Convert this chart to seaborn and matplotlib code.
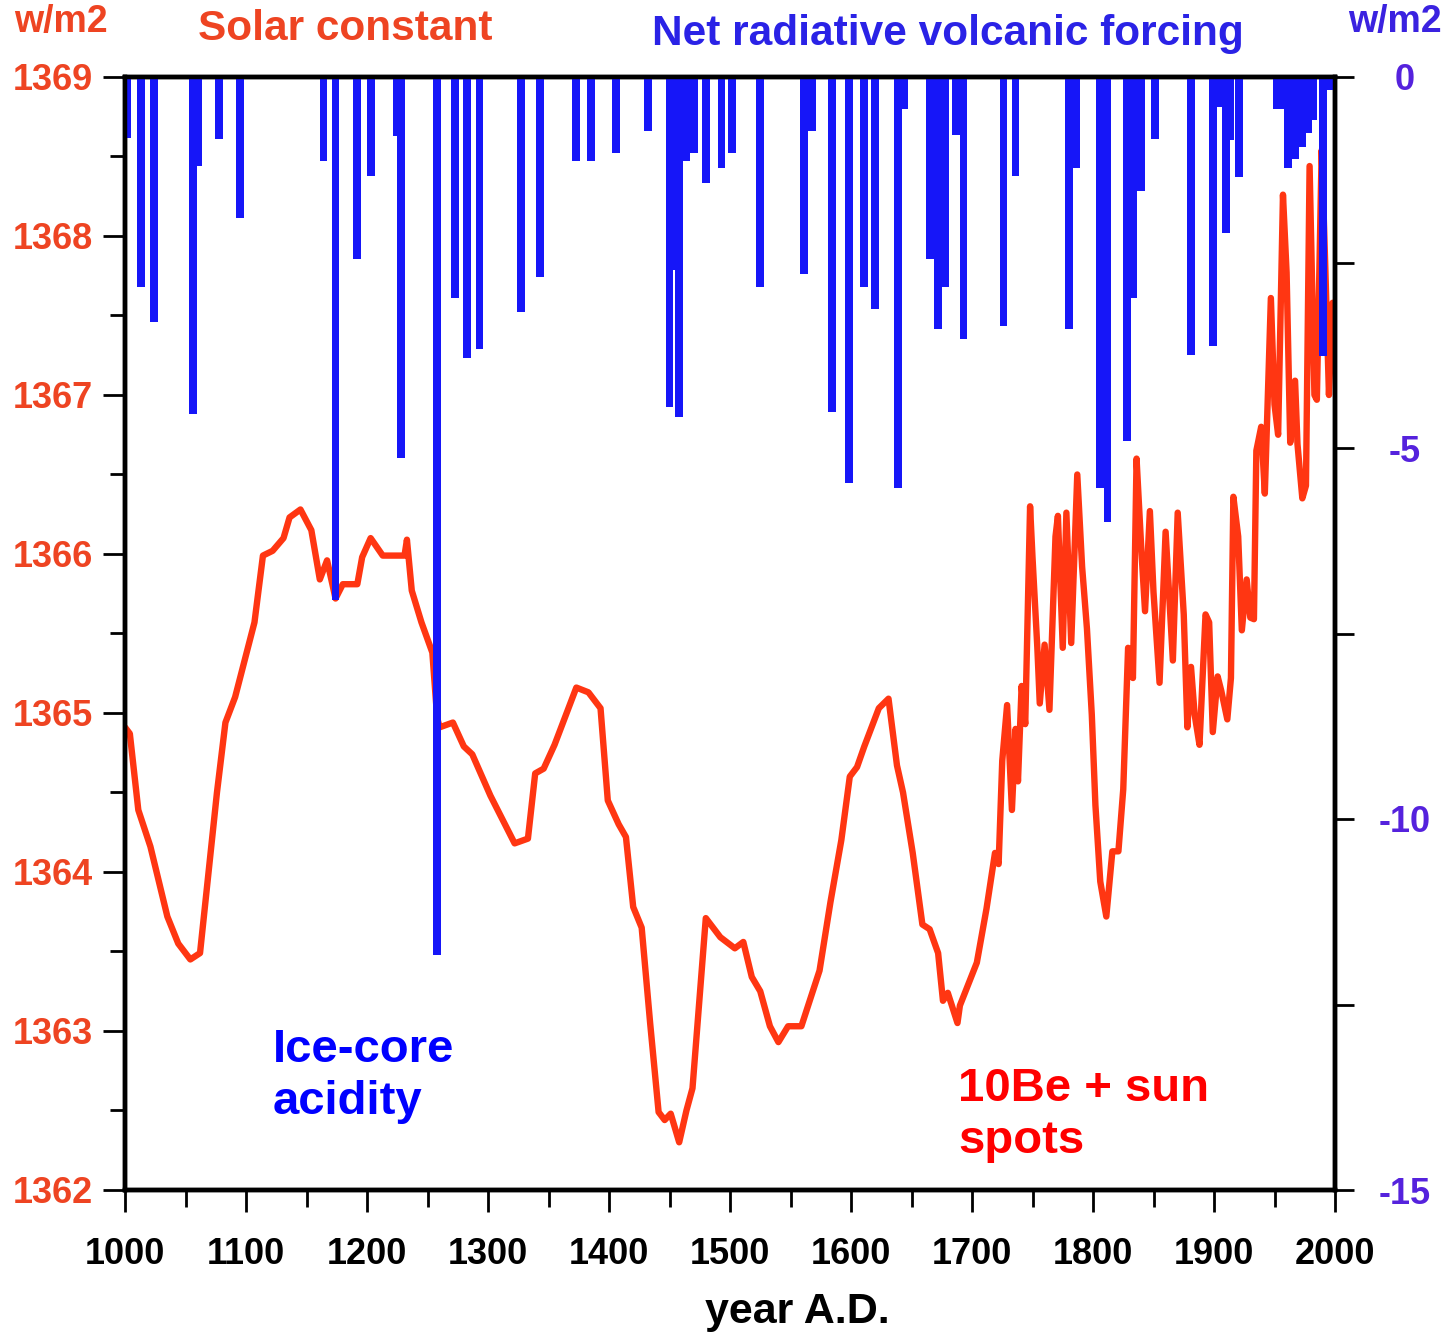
import matplotlib
matplotlib.use("Agg")
import matplotlib.pyplot as plt
import seaborn as sns
import numpy as np
from matplotlib.ticker import MultipleLocator, FixedLocator

# Solar constant (w/m2), 10Be + sun spots reconstruction
solar_years = [1000, 1004, 1011, 1021, 1035, 1044, 1054, 1062, 1076, 1083, 1091, 1107,
               1114, 1122, 1131, 1136, 1145, 1154, 1161, 1167, 1174, 1180, 1192, 1196,
               1203, 1213, 1231, 1233, 1237, 1245, 1254, 1258, 1260, 1271, 1280, 1287,
               1302, 1322, 1333, 1339, 1346, 1355, 1373, 1383, 1393, 1399, 1408, 1414,
               1420, 1427, 1434, 1441, 1446, 1451, 1458, 1464, 1469, 1480, 1492, 1504,
               1511, 1518, 1525, 1533, 1540, 1548, 1559, 1574, 1583, 1592, 1599, 1605,
               1611, 1623, 1631, 1638, 1643, 1651, 1659, 1665, 1672, 1676, 1680, 1688,
               1690, 1704, 1712, 1719, 1722, 1725, 1729, 1733, 1736, 1738, 1741, 1744,
               1748, 1750, 1754, 1756, 1760, 1764, 1769, 1771, 1775, 1778, 1782, 1787,
               1791, 1795, 1799, 1802, 1806, 1811, 1816, 1821, 1825, 1829, 1833, 1836,
               1840, 1843, 1847, 1850, 1855, 1860, 1866, 1870, 1875, 1878, 1881, 1884,
               1888, 1893, 1896, 1899, 1903, 1906, 1911, 1914, 1916, 1920, 1923, 1927,
               1930, 1933, 1935, 1939, 1942, 1947, 1950, 1953, 1957, 1960, 1963, 1967,
               1969, 1973, 1976, 1979, 1983, 1985, 1989, 1992, 1995, 1998]
solar_values = [1364.91, 1364.87, 1364.39, 1364.16, 1363.72, 1363.55, 1363.45, 1363.49,
                1364.50, 1364.94, 1365.10, 1365.57, 1365.99, 1366.02, 1366.10, 1366.23,
                1366.28, 1366.15, 1365.84, 1365.96, 1365.72, 1365.81, 1365.81, 1365.98,
                1366.10, 1365.99, 1365.99, 1366.09, 1365.77, 1365.57, 1365.38, 1364.97,
                1364.91, 1364.94, 1364.79, 1364.74, 1364.48, 1364.18, 1364.21, 1364.62,
                1364.65, 1364.80, 1365.16, 1365.13, 1365.03, 1364.45, 1364.30, 1364.22,
                1363.78, 1363.65, 1363.05, 1362.49, 1362.44, 1362.48, 1362.30, 1362.50,
                1362.64, 1363.71, 1363.59, 1363.52, 1363.56, 1363.34, 1363.25, 1363.03,
                1362.93, 1363.03, 1363.03, 1363.38, 1363.81, 1364.20, 1364.60, 1364.66,
                1364.79, 1365.03, 1365.09, 1364.67, 1364.50, 1364.12, 1363.67, 1363.64,
                1363.49, 1363.19, 1363.24, 1363.05, 1363.16, 1363.43, 1363.77, 1364.12,
                1364.05, 1364.70, 1365.05, 1364.39, 1364.90, 1364.57, 1365.17, 1364.93,
                1366.30, 1365.98, 1365.41, 1365.06, 1365.43, 1365.02, 1366.11, 1366.24,
                1365.41, 1366.26, 1365.44, 1366.50, 1365.92, 1365.53, 1364.99, 1364.42,
                1363.94, 1363.72, 1364.13, 1364.13, 1364.52, 1365.41, 1365.22, 1366.60,
                1366.02, 1365.64, 1366.27, 1365.76, 1365.19, 1366.14, 1365.33, 1366.26,
                1365.62, 1364.91, 1365.29, 1364.99, 1364.80, 1365.62, 1365.57, 1364.88,
                1365.23, 1365.14, 1364.96, 1365.22, 1366.36, 1366.11, 1365.52, 1365.84,
                1365.60, 1365.59, 1366.65, 1366.80, 1366.38, 1367.61, 1366.94, 1366.75,
                1368.26, 1367.77, 1366.70, 1367.09, 1366.69, 1366.35, 1366.43, 1368.44,
                1367.00, 1366.97, 1368.54, 1367.80, 1367.00, 1367.58]

# Net radiative volcanic forcing (w/m2), ice-core acidity
volc_years = [1002, 1013, 1024, 1056, 1060, 1078, 1095, 1164, 1174, 1192, 1203, 1225,
              1228, 1258, 1273, 1283, 1293, 1327, 1343, 1373, 1385, 1406, 1432, 1450,
              1454, 1458, 1464, 1470, 1480, 1493, 1502, 1525, 1561, 1568, 1584, 1598,
              1611, 1620, 1639, 1644, 1665, 1672, 1678, 1687, 1693, 1726, 1736, 1780,
              1786, 1806, 1812, 1828, 1833, 1840, 1851, 1881, 1899, 1904, 1910, 1913,
              1921, 1952, 1957, 1961, 1967, 1973, 1978, 1982, 1990, 1995]
volc_values = [-0.82, -2.83, -3.30, -4.54, -1.20, -0.84, -1.90, -1.13, -7.05, -2.45,
               -1.33, -0.80, -5.13, -11.83, -2.98, -3.79, -3.67, -3.17, -2.70, -1.13,
               -1.13, -1.03, -0.73, -4.45, -2.60, -4.58, -1.13, -1.03, -1.43, -1.23,
               -1.03, -2.83, -2.66, -0.73, -4.51, -5.47, -2.83, -3.13, -5.54, -0.43,
               -2.45, -3.40, -2.83, -0.78, -3.53, -3.36, -1.33, -3.40, -1.23, -5.54,
               -6.00, -4.90, -2.98, -1.53, -0.84, -3.74, -3.63, -0.41, -2.10, -0.85,
               -1.35, -0.43, -0.43, -1.23, -1.10, -0.94, -0.76, -0.58, -3.76, -0.17]
right_ticks = [0, -5, -10, -15]
right_labels = ["0", "-5", "-10", "-15"]

LEFT_COL = "#ee4422"
LINE_COL = "#ff3612"
BLUE = "#1616f8"
RIGHT_COL = "#5522dd"

sns.set_style("ticks")
plt.rcParams["font.family"] = ["Liberation Sans", "DejaVu Sans"]
plt.rcParams["font.weight"] = "bold"
plt.rcParams["axes.unicode_minus"] = False
plt.rcParams["text.color"] = "black"

W, H = 1450, 1335
fig = plt.figure(figsize=(W / 100, H / 100), dpi=100)
ax = fig.add_axes([125 / W, 1 - 1190 / H, (1335 - 125) / W, (1190 - 77) / H])

sns.lineplot(x=solar_years, y=solar_values, ax=ax, color=LINE_COL, linewidth=4.6,
             estimator=None, sort=True, solid_joinstyle="round")
ax.set_xlim(1000, 2000)
ax.set_ylim(1362, 1369)
ax.xaxis.set_major_locator(MultipleLocator(100))
ax.xaxis.set_minor_locator(MultipleLocator(50))
ax.yaxis.set_major_locator(MultipleLocator(1))
ax.yaxis.set_minor_locator(MultipleLocator(0.5))
ax.tick_params(axis="x", which="major", length=16, width=2, pad=18, labelsize=26,
               colors="black")
ax.tick_params(axis="x", which="minor", length=12, width=2, colors="black")
ax.tick_params(axis="y", which="major", length=16, width=2, pad=7, labelsize=26,
               labelcolor=LEFT_COL, color="black")
ax.tick_params(axis="y", which="minor", length=11, width=2, color="black")
for lab in ax.get_xticklabels() + ax.get_yticklabels():
    lab.set_fontweight("bold")
ax.set_xlabel("year A.D.", fontsize=31, fontweight="bold", color="black")
ax.xaxis.set_label_coords((797 - 125) / (1335 - 125), -(1312 - 1190) / (1190 - 77))
ax.xaxis.label.set_verticalalignment("center")
ax.set_ylabel("")

ax2 = ax.twinx()
ax2.bar(volc_years, volc_values, width=6.5, color=BLUE, linewidth=0)
ax2.set_ylim(-15, 0)
ax2.set_yticks(right_ticks, labels=right_labels, ha="center", fontweight="bold")
ax2.yaxis.set_minor_locator(FixedLocator([-2.5, -7.5, -12.5]))
ax2.tick_params(axis="y", which="major", length=14, width=2, pad=36, labelsize=26,
                labelcolor=RIGHT_COL, color="black")
ax2.tick_params(axis="y", which="minor", length=14, width=2, color="black")

for a in (ax, ax2):
    for s in a.spines.values():
        s.set_visible(True)
        s.set_color("black")
        s.set_linewidth(3.2)

def fx(px):
    return px / W

def fy(py):
    return 1 - py / H

fig.text(fx(61), fy(22), "w/m2", color=LEFT_COL, fontsize=27, fontweight="bold",
         ha="center", va="center")
fig.text(fx(345), fy(29), "Solar constant", color=LEFT_COL, fontsize=30.5,
         fontweight="bold", ha="center", va="center")
fig.text(fx(948), fy(34), "Net radiative volcanic forcing", color="#2a22e6",
         fontsize=30.5, fontweight="bold", ha="center", va="center")
fig.text(fx(1395), fy(22), "w/m2", color="#3a22e0", fontsize=27, fontweight="bold",
         ha="center", va="center")
fig.text(fx(273), fy(1076), "Ice-core\nacidity", color="#0000ff", fontsize=34,
         fontweight="bold", ha="left", va="center", linespacing=1.26)
fig.text(fx(958), fy(1115), "10Be + sun\nspots", color="#ff0000", fontsize=34,
         fontweight="bold", ha="left", va="center", linespacing=1.22)

fig.savefig("out.png", dpi=100, facecolor="white")
